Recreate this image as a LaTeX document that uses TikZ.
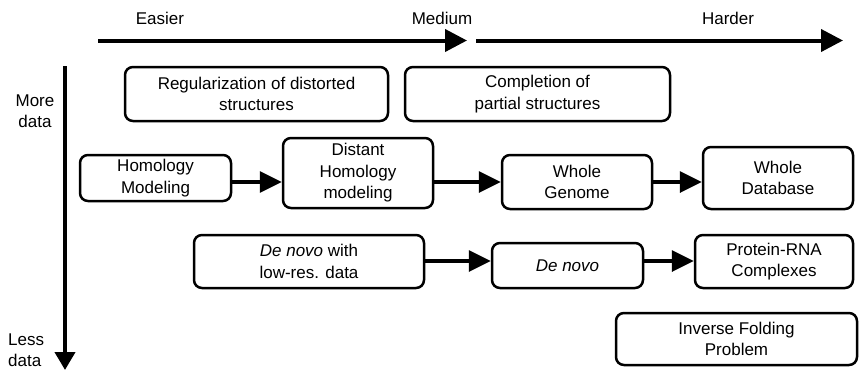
\documentclass[tikz,border=0pt]{standalone}
\usepackage{fontspec}
\setmainfont{Liberation Sans}
\usetikzlibrary{arrows.meta}
\begin{document}
\begin{tikzpicture}[x=1pt,y=-1pt,
  every node/.style={font=\fontsize{17}{21.5}\selectfont, inner sep=0pt},
  box/.style={draw=black, line width=2.5pt, rounded corners=8pt, align=center, fill=white},
  axis/.style={line width=4pt, -{Triangle[length=22pt,width=22pt]}},
  conn/.style={line width=3.5pt, -{Triangle[length=22pt,width=21pt]}},
  lbl/.style={align=center}]
\useasboundingbox (0,0) rectangle (859,370);
% axes
\coordinate (a1s) at (98,40.5);
\coordinate (a1e) at (467,40.5);
\coordinate (a2s) at (476,40.5);
\coordinate (a2e) at (843,40.5);
\coordinate (vs) at (65,66);
\coordinate (ve) at (65,370);
\draw[axis] (a1s) -- (a1e);
\draw[axis] (a2s) -- (a2e);
\draw[line width=4pt, -{Triangle[length=18pt,width=20pt]}] (vs) -- (ve);
% axis labels
\node[lbl] (easier) at (160,18) {Easier};
\node[lbl] (medium) at (442,18) {Medium};
\node[lbl] (harder) at (728,18) {Harder};
\node[lbl] (more) at (35,111) {More\\data};
\node[align=left, anchor=west] (less) at (8,350) {Less\\data};
% boxes
\node[box, minimum width=263, minimum height=54] (reg) at (256.5,94) {Regularization of distorted\\structures};
\node[box, minimum width=265, minimum height=54] (comp) at (537.5,94) {Completion of\\partial structures};
\node[box, minimum width=151, minimum height=46] (hom) at (155.5,178) {Homology\\Modeling};
\node[box, minimum width=150, minimum height=70] (dist) at (358,173) {Distant\\Homology\\modeling};
\node[box, minimum width=150, minimum height=54] (wg) at (577,182) {Whole\\Genome};
\node[box, minimum width=150, minimum height=62] (wdb) at (778,178) {Whole\\Database};
\node[box, minimum width=230, minimum height=53] (dnl) at (309,261.5) {\textit{De novo} with\\low-res. data};
\node[box, minimum width=151, minimum height=45] (dn) at (567.5,265.5) {\textit{De novo}};
\node[box, minimum width=158, minimum height=53] (prna) at (774,261.5) {Protein-RNA\\Complexes};
\node[box, minimum width=241, minimum height=52] (inv) at (736.5,339) {Inverse Folding\\Problem};
% connectors
\coordinate (r1) at (0,182);
\coordinate (r2) at (0,261);
\draw[conn] (hom.east |- r1) -- (dist.west |- r1);
\draw[conn] (dist.east |- r1) -- (wg.west |- r1);
\draw[conn] (wg.east |- r1) -- (wdb.west |- r1);
\draw[conn] (dnl.east |- r2) -- (dn.west |- r2);
\draw[conn] (dn.east |- r2) -- (prna.west |- r2);
\end{tikzpicture}
\end{document}
